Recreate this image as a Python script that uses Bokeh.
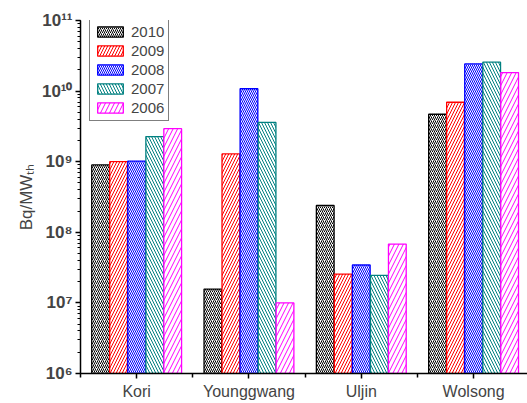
from bokeh.plotting import figure
from bokeh.models import (Range1d, FixedTicker, CustomJSTickFormatter, Legend, LegendItem,
                          ColumnDataSource, LogTicker)
from bokeh.transform import dodge
from bokeh.embed import file_html
from bokeh.resources import INLINE

sites = ["Kori", "Younggwang", "Uljin", "Wolsong"]
years = ["2010", "2009", "2008", "2007", "2006"]
v2010 = [9.0e8, 1.57e7, 2.4e8, 4.7e9]
v2009 = [1.0e9, 1.29e9, 2.56e7, 6.95e9]
v2008 = [1.02e9, 1.08e10, 3.44e7, 2.43e10]
v2007 = [2.27e9, 3.6e9, 2.46e7, 2.57e10]
v2006 = [2.94e9, 1.0e7, 6.8e7, 1.83e10]
series = [v2010, v2009, v2008, v2007, v2006]

colors = ["#000000", "#FF0000", "#0000FF", "#008080", "#FF00FF"]
patterns = ["/", "/", "\\", "\\", "/"]
scales = [4, 6, 4, 6, 9]
offsets = [-0.321, -0.161, 0.0, 0.161, 0.321]

p = figure(width=527, height=403, y_axis_type="log",
           x_range=Range1d(0, 3.98), y_range=Range1d(1e6, 1e11),
           output_backend="svg", toolbar_location=None,
           min_border_left=80, min_border_right=0, min_border_top=20, min_border_bottom=30)
p.outline_line_color = None
p.grid.grid_line_color = None
p.background_fill_color = "white"

src = ColumnDataSource(dict(x=[i + 0.5 for i in range(len(sites))],
                            **{"y" + y: s for y, s in zip(years, series)}))

items = []
for k, yr in enumerate(years):
    r = p.vbar(x=dodge("x", offsets[k]), top="y" + yr, bottom=1e6, width=0.158, source=src,
               fill_color="white", line_color=colors[k], line_width=1.3,
               hatch_pattern=patterns[k], hatch_color=colors[k], hatch_scale=scales[k],
               hatch_weight=1.0)
    items.append(LegendItem(label=yr, renderers=[r]))

legend = Legend(items=items, location=(9, 252), border_line_color="black", border_line_width=1,
                padding=4, spacing=2, margin=0, label_text_font="Liberation Sans",
                label_text_font_size="15px", glyph_width=32, glyph_height=13,
                label_height=13, label_standoff=5, background_fill_alpha=1)
p.add_layout(legend)

# x axis
p.xaxis.ticker = FixedTicker(ticks=[i + 0.5 for i in range(len(sites))],
                             minor_ticks=list(range(len(sites) + 1)))
p.xaxis.formatter = CustomJSTickFormatter(args=dict(cats=sites),
                                          code="return cats[Math.floor(tick)];")
p.xaxis.major_label_text_font = "Liberation Sans"
p.xaxis.major_label_text_font_size = "16px"
p.xaxis.major_tick_in = 0
p.xaxis.major_tick_out = 5
p.xaxis.minor_tick_in = 0
p.xaxis.minor_tick_out = 4
p.xaxis.axis_line_width = 1.5
p.xaxis.major_tick_line_width = 1.5
p.xaxis.minor_tick_line_width = 1.5
p.xaxis.major_label_standoff = 4

# y axis
p.yaxis.ticker = LogTicker(num_minor_ticks=10)
p.yaxis.formatter = CustomJSTickFormatter(code="""
const sup = {'0':'\u2070','1':'\u00b9','2':'\u00b2','3':'\u00b3','4':'\u2074','5':'\u2075','6':'\u2076','7':'\u2077','8':'\u2078','9':'\u2079','-':'\u207b'};
const e = Math.round(Math.log10(tick));
return '10' + String(e).split('').map(c => sup[c]).join('');
""")
p.yaxis.major_label_text_font = "Liberation Sans"
p.yaxis.major_label_text_font_style = "bold"
p.yaxis.major_label_text_font_size = "17px"
p.yaxis.major_tick_in = 0
p.yaxis.major_tick_out = 5
p.yaxis.minor_tick_in = 0
p.yaxis.minor_tick_out = 3
p.yaxis.axis_line_width = 1.5
p.yaxis.major_tick_line_width = 1.5
p.yaxis.minor_tick_line_width = 1
p.yaxis.major_label_standoff = 3
p.yaxis.axis_label = "Bq/MW\u209c\u2095"
p.yaxis.axis_label_text_font = "Liberation Sans"
p.yaxis.axis_label_text_font_style = "normal"
p.yaxis.axis_label_text_font_size = "17px"
p.yaxis.axis_label_standoff = 3

open("out.html", "w").write(file_html(p, INLINE))
